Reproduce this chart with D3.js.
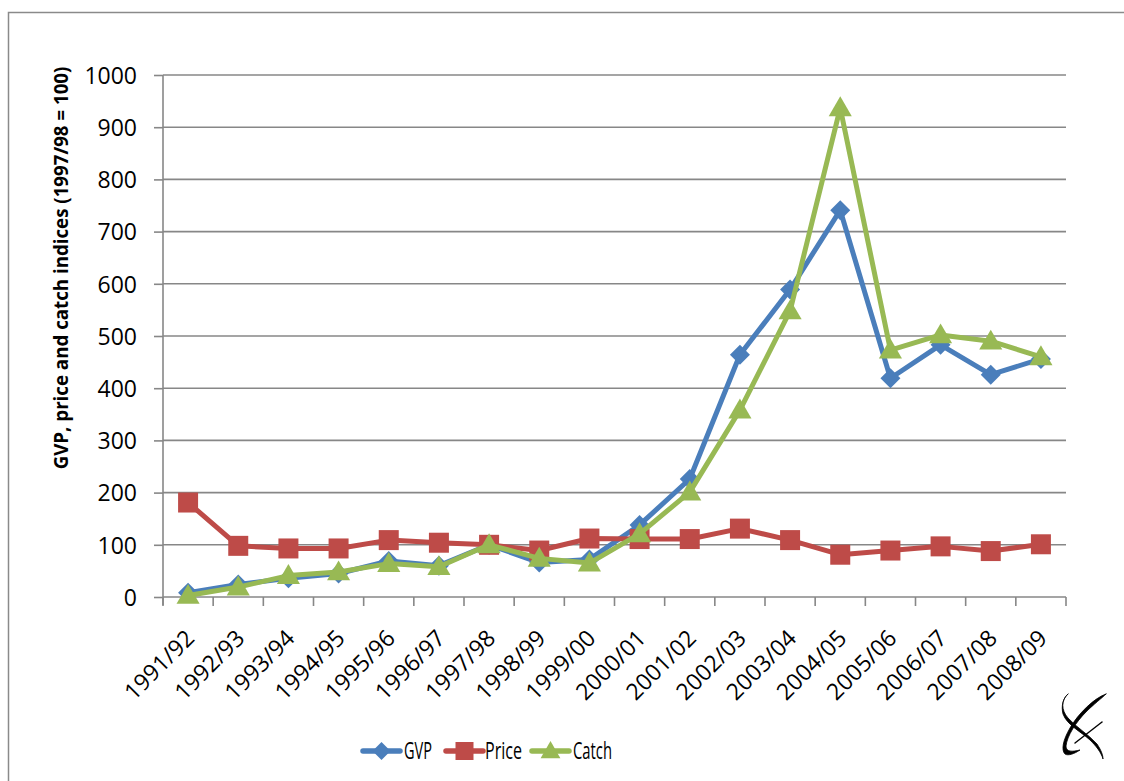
<!DOCTYPE html>
<html>
<head>
<meta charset="utf-8">
<script src="https://cdn.jsdelivr.net/npm/d3@7"></script>
<style>
  html, body { margin: 0; padding: 0; background: #fff; }
  svg { display: block; }
  text { font-family: "Open Sans", "Noto Sans", sans-serif; fill: #000; }
</style>
</head>
<body>
<svg id="chart" width="1124" height="781"></svg>
<script>
const categories = ["1991/92","1992/93","1993/94","1994/95","1995/96","1996/97","1997/98","1998/99","1999/00","2000/01","2001/02","2002/03","2003/04","2004/05","2005/06","2006/07","2007/08","2008/09"];
const gvp   = [8, 24, 36, 45, 69, 60, 100, 66, 72, 138, 226, 464, 589, 741, 419, 483, 426, 456];
const price = [181, 98, 93, 93, 109, 104, 100, 89, 112, 111, 111, 131, 109, 81, 89, 97, 88, 101];
const catchIdx = [3, 19, 41, 48, 64, 58, 100, 74, 65, 121, 201, 358, 548, 937, 473, 502, 490, 460];
const yTicks = [0,100,200,300,400,500,600,700,800,900,1000];
const seriesNames = ["GVP","Price","Catch"];
const yLabel = "GVP, price and catch indices (1997/98 = 100)";

const series = [
  {name: seriesNames[0], values: gvp,      color: "#4A7EBB", marker: "diamond"},
  {name: seriesNames[1], values: price,    color: "#BE4B48", marker: "square"},
  {name: seriesNames[2], values: catchIdx, color: "#98B954", marker: "triangle"}
];

const svg = d3.select("#chart");
const pLeft = 163, pRight = 1066, pTop = 75, pBottom = 597;
const gridColor = "#878787";

// outer frame
svg.append("rect").attr("x", 8.5).attr("y", 12.5).attr("width", 1200).attr("height", 900)
  .attr("fill", "none").attr("stroke", "#8a8a8a").attr("stroke-width", 1.5);

const x = d3.scaleBand().domain(categories).range([pLeft, pRight]);
const y = d3.scaleLinear().domain([0, 1000]).range([pBottom, pTop]);
const cx = c => x(c) + x.bandwidth() / 2;

// gridlines
svg.append("g").selectAll("line").data(yTicks.filter(t => t > 0)).join("line")
  .attr("x1", pLeft).attr("x2", pRight)
  .attr("y1", d => y(d)).attr("y2", d => y(d))
  .attr("stroke", gridColor).attr("stroke-width", 1.6);

// y axis
const yAxis = svg.append("g").attr("transform", `translate(${pLeft},0)`)
  .call(d3.axisLeft(y).tickValues(yTicks).tickFormat(d3.format("d")).tickSize(9).tickPadding(17).tickSizeOuter(0));
yAxis.select(".domain").attr("stroke", gridColor).attr("stroke-width", 1.6)
  .attr("d", `M0,${pTop}V${pBottom + 8}`);
yAxis.selectAll(".tick line").attr("stroke", gridColor).attr("stroke-width", 1.6);
yAxis.selectAll(".tick text").style("font-family", "'Open Sans', sans-serif").style("font-size", "23px").attr("fill", "#000").attr("dy", "0.36em");

// x axis baseline
svg.append("line").attr("x1", pLeft).attr("x2", pRight).attr("y1", pBottom).attr("y2", pBottom)
  .attr("stroke", gridColor).attr("stroke-width", 1.6);
// x tick marks between categories
const boundaries = categories.map(c => x(c)).concat([x(categories[categories.length - 1]) + x.bandwidth()]);
svg.append("g").selectAll("line").data(boundaries).join("line")
  .attr("x1", d => d).attr("x2", d => d).attr("y1", pBottom).attr("y2", pBottom + 9)
  .attr("stroke", gridColor).attr("stroke-width", 1.6);

// x tick labels
svg.append("g").selectAll("text").data(categories).join("text")
  .attr("transform", d => `translate(${cx(d) + 2},${pBottom + 37}) rotate(-45)`)
  .attr("text-anchor", "end").attr("dy", "0.35em")
  .style("font-size", "23px")
  .text(d => d);

// y label (font size fitted to the reference length)
const yl = svg.append("text")
  .attr("transform", `translate(68,268) rotate(-90)`)
  .attr("text-anchor", "middle")
  .style("font-size", "20px").style("font-weight", "bold")
  .text(yLabel);
const natural = yl.node().getComputedTextLength();
if (natural > 403) yl.style("font-size", (20 * 403 / natural).toFixed(2) + "px");

// markers
function markerPath(type, s) {
  if (type === "diamond") return `M0,${-s}L${s},0L0,${s}L${-s},0Z`;
  if (type === "square") return `M${-s},${-s}H${s}V${s}H${-s}Z`;
  return `M0,${-s * 1.1}L${s * 1.1},${s * 0.8}L${-s * 1.1},${s * 0.8}Z`;
}
const markerSize = {diamond: 10, square: 10, triangle: 10.5};

const line = d3.line().x((d, i) => cx(categories[i])).y(d => y(d));
series.forEach(s => {
  const g = svg.append("g");
  g.append("path").datum(s.values).attr("d", line)
    .attr("fill", "none").attr("stroke", s.color).attr("stroke-width", 5).attr("stroke-linejoin", "round");
  g.selectAll("path.m").data(s.values).join("path").attr("class", "m")
    .attr("transform", (d, i) => `translate(${cx(categories[i])},${y(d)})`)
    .attr("d", markerPath(s.marker, markerSize[s.marker]))
    .attr("fill", s.color);
});

// legend
const legendItems = [
  {x0: 363, tx: 404, w: 28},
  {x0: 446, tx: 485, w: 37},
  {x0: 532, tx: 573, w: 39}
];
series.forEach((s, i) => {
  const L = legendItems[i];
  const g = svg.append("g");
  g.append("line").attr("x1", L.x0).attr("x2", L.x0 + 37).attr("y1", 751).attr("y2", 751)
    .attr("stroke", s.color).attr("stroke-width", 5.5).attr("stroke-linecap", "round");
  g.append("path").attr("transform", `translate(${L.x0 + 18.5},751)`)
    .attr("d", markerPath(s.marker, 9)).attr("fill", s.color);
  g.append("text").attr("x", L.tx).attr("y", 759)
    .attr("textLength", L.w).attr("lengthAdjust", "spacingAndGlyphs")
    .style("font-size", "23px").text(s.name);
});

// logo
const logo = svg.append("g").attr("transform", "translate(1050,690)")
  .attr("stroke", "#000").attr("stroke-linecap", "round");
logo.append("path").attr("fill", "#000").attr("stroke-width", 0.8)
  .attr("d", "M18,4 C11,10 11,20 18,28 C26,37 38,44 47,54 C51,60 53,65 53,69 C51,62 46,56 40,50 C30,41 17,35 13,24 C11,16 13,8 18,4Z");
logo.append("path").attr("fill", "#000").attr("stroke-width", 0.8)
  .attr("d", "M56,4 C44,8 28,24 20,38 C13,50 11,60 15,64 C18,66 24,64 30,60 C22,62 16,62 16,56 C17,46 26,32 36,22 C44,14 52,8 56,4Z");
logo.append("path").attr("fill", "none").attr("d", "M25,53 L52,32").attr("stroke-width", 1.4);
</script>
</body>
</html>
